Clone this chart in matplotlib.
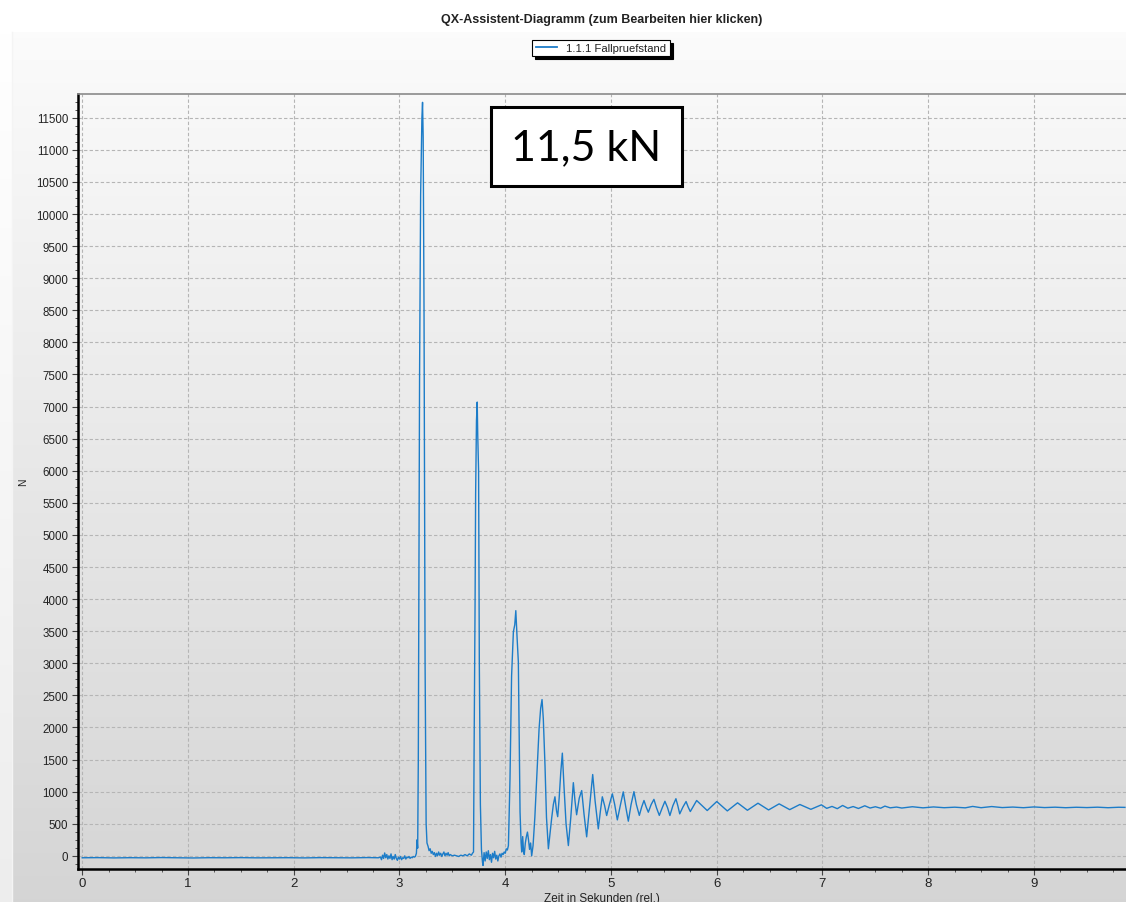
import numpy as np
import matplotlib
matplotlib.use("Agg")
import matplotlib.pyplot as plt
from matplotlib.patches import Rectangle
from matplotlib.ticker import MultipleLocator

plt.rcParams['font.family'] = ['Liberation Sans', 'DejaVu Sans']

# ---------------- data ----------------
title = "QX-Assistent-Diagramm (zum Bearbeiten hier klicken)"
series_name = "1.1.1 Fallpruefstand"
x_label = "Zeit in Sekunden (rel.)"
y_label = "N"
annotation = "11,5 kN"

# quiet baseline before the impact
t_base = [0.0, 0.15, 0.3, 0.45, 0.6, 0.75, 0.9, 1.05, 1.2, 1.35, 1.5, 1.65, 1.8,
          1.95, 2.1, 2.25, 2.4, 2.55, 2.7, 2.8]
f_base = [-30, -28, -32, -29, -31, -27, -30, -33, -29, -30, -28, -31, -30,
          -29, -32, -28, -30, -31, -27, -30]

# noise before first impact
t_pre = [2.82, 2.83, 2.84, 2.85, 2.86, 2.87, 2.88, 2.89, 2.90, 2.91, 2.92, 2.93,
         2.94, 2.95, 2.96, 2.97, 2.98, 2.99, 3.00, 3.01, 3.02, 3.03, 3.04, 3.05,
         3.06, 3.07, 3.08, 3.09, 3.10, 3.11, 3.12, 3.13, 3.14, 3.15]
f_pre = [-20, -60, 10, -40, 45, -30, 20, -50, 0, -40, 30, -60, -10, -50, 20, -40,
         -70, -20, -50, -10, -60, -30, -40, 0, -50, -20, -30, -10, -40, -20, -30,
         -10, -20, -10]

# first impact (11.5 kN)
t_p1 = [3.160, 3.166, 3.172, 3.178, 3.190, 3.200, 3.212, 3.218, 3.224, 3.232,
        3.242, 3.252, 3.260]
f_p1 = [40, 250, 120, 1500, 7500, 10300, 11500, 11740, 11200, 8500, 3000, 500, 200]

# between first and second impact
t_mid1 = [3.27, 3.28, 3.29, 3.30, 3.31, 3.32, 3.33, 3.34, 3.35, 3.36, 3.37, 3.38,
          3.39, 3.40, 3.41, 3.42, 3.43, 3.44, 3.45, 3.46, 3.47, 3.48, 3.49, 3.50,
          3.52, 3.54, 3.56, 3.58, 3.60, 3.62, 3.64, 3.66, 3.68, 3.69]
f_mid1 = [150, 80, 110, 40, 70, 20, 50, -10, 40, 0, 60, 10, 40, -10, 30, 60, 0,
          40, 10, 50, 0, 20, 10, 0, 10, 0, -10, 10, 0, 20, 0, 30, 10, 40]

# second impact
t_p2 = [3.700, 3.705, 3.715, 3.720, 3.728, 3.735, 3.740, 3.748, 3.755, 3.765,
        3.775, 3.785]
f_p2 = [60, 1500, 4000, 5640, 6780, 7070, 6550, 6000, 3000, 800, 100, -100]

# between second and third impact
t_mid2 = [3.79, 3.80, 3.81, 3.82, 3.83, 3.84, 3.85, 3.86, 3.87, 3.88, 3.89, 3.90,
          3.91, 3.92, 3.93, 3.94, 3.95, 3.96, 3.97, 3.98, 3.99, 4.00, 4.01, 4.02]
f_mid2 = [-150, 50, -80, 60, -40, 80, -60, 20, -100, 40, -30, 70, -50, 10, -80,
          0, 30, -20, 40, 20, 60, 40, 110, 90]

# third/fourth impact and decaying oscillation
t_osc = [4.030, 4.045, 4.060, 4.077, 4.090, 4.100, 4.112, 4.124, 4.132, 4.140,
         4.150, 4.156, 4.165, 4.172, 4.180, 4.190, 4.200, 4.210, 4.220, 4.230,
         4.240, 4.250, 4.263, 4.280, 4.297, 4.320, 4.335, 4.348, 4.360, 4.376,
         4.390, 4.408, 4.420, 4.440, 4.455, 4.470, 4.485, 4.496, 4.510, 4.525,
         4.540, 4.555, 4.575, 4.597, 4.620, 4.644, 4.660, 4.675, 4.700, 4.723,
         4.745, 4.770, 4.800, 4.827, 4.850, 4.880, 4.900, 4.918, 4.940, 4.959,
         4.985, 5.013, 5.035, 5.060, 5.090, 5.116, 5.140, 5.164, 5.190, 5.217,
         5.240, 5.268, 5.290, 5.312, 5.333, 5.353, 5.380, 5.406, 5.430, 5.457,
         5.485, 5.510, 5.535, 5.557, 5.585, 5.614, 5.632, 5.650, 5.680, 5.710,
         5.730, 5.750]
f_osc = [160, 1200, 2800, 3490, 3600, 3820, 3400, 3020, 1800, 685,
         200, 60, 300, 100, 20, 200, 300, 370, 250, 100,
         200, 0, 160, 600, 1200, 1980, 2300, 2435, 2135, 1407,
         600, 110, 300, 600, 800, 920, 700, 610, 900, 1300,
         1600, 1100, 500, 160, 600, 1140, 850, 640, 900, 1017,
         650, 296, 800, 1267, 850, 420, 700, 920, 780, 628,
         800, 966, 800, 560, 800, 997, 760, 540, 800, 1000,
         800, 630, 760, 862, 760, 680, 800, 880, 750, 630,
         750, 850, 750, 628, 780, 890, 780, 654, 760, 846,
         760, 690]

# slow settling oscillation
t_set = [5.81, 5.91, 6.00, 6.10, 6.197, 6.29, 6.39, 6.49, 6.59, 6.69, 6.786,
         6.89, 6.99, 7.04, 7.09, 7.14, 7.19, 7.24, 7.29, 7.34, 7.40, 7.45, 7.50,
         7.55, 7.59, 7.64, 7.70]
f_set = [862, 706, 846, 700, 826, 710, 820, 715, 810, 720, 800,
         725, 795, 740, 770, 735, 785, 742, 768, 738, 780, 745, 765,
         742, 775, 748, 760]

# nearly constant tail
t_tail = [7.75, 7.85, 7.95, 8.05, 8.15, 8.25, 8.35, 8.42, 8.50, 8.60, 8.70,
          8.80, 8.90, 9.00, 9.10, 9.20, 9.30, 9.40, 9.50, 9.60, 9.70, 9.80, 9.86]
f_tail = [745, 765, 748, 762, 750, 758, 748, 770, 750, 768, 752,
          760, 750, 762, 752, 758, 750, 757, 752, 758, 750, 757, 755]

t_all = np.concatenate([t_base, t_pre, t_p1, t_mid1, t_p2, t_mid2, t_osc, t_set, t_tail])
f_all = np.concatenate([f_base, f_pre, f_p1, f_mid1, f_p2, f_mid2, f_osc, f_set, f_tail])

x_ticks = list(range(0, 10))
y_ticks = list(range(0, 12000, 500))

# ---------------- figure ----------------
W, H = 1126, 903
fig = plt.figure(figsize=(W / 100, H / 100), dpi=100)
fig.patch.set_facecolor('white')

# background panel with vertical gradient
bg = fig.add_axes([0, 0, 1, 1], zorder=-10)
bg.set_xlim(0, W)
bg.set_ylim(H, 0)
bg.axis('off')
grad = np.linspace(0, 1, 256).reshape(-1, 1)
top_c = np.array([0.985, 0.985, 0.985])
bot_c = np.array([0.835, 0.835, 0.835])
img = top_c + (bot_c - top_c) * grad
img = np.repeat(img[:, None, :], 2, axis=1)
bg.imshow(img, extent=[12, W, H, 33], aspect='auto', interpolation='bilinear')
left_img = np.array([1.0, 1.0, 1.0]) + (np.array([0.93, 0.93, 0.93]) - 1.0) * grad
left_img = np.repeat(left_img[:, None, :], 2, axis=1)
bg.imshow(left_img, extent=[0, 12, H, 33], aspect='auto', interpolation='bilinear')
bg.plot([12, 12], [33, H], color='#f4f4f4', lw=1)

ax_l, ax_r, ax_t, ax_b = 78, 1126, 95, 870
ax = fig.add_axes([ax_l / W, 1 - ax_b / H, (ax_r - ax_l) / W, (ax_b - ax_t) / H])
ax.set_facecolor('none')

line, = ax.plot(t_all, f_all, color='#1c7cc8', lw=1.0, label=series_name)

ax.set_xlim(-0.04, 9.87)
ax.set_ylim(-205, 11870)
ax.set_xticks(x_ticks)
ax.set_yticks(y_ticks)
ax.xaxis.set_minor_locator(MultipleLocator(0.25))
ax.yaxis.set_minor_locator(MultipleLocator(125))
ax.grid(True, which='major', color='#b5b5b5', linestyle=(0, (3, 2)), lw=0.8)
ax.set_axisbelow(True)

for s in ['left', 'bottom']:
    ax.spines[s].set_color('black')
    ax.spines[s].set_linewidth(1.8)
ax.spines['top'].set_color('#8a8a8a')
ax.spines['top'].set_linewidth(1.2)
ax.spines['right'].set_visible(False)

ax.tick_params(axis='both', which='major', direction='out', length=4, width=0.8,
               color='#444444')
ax.tick_params(axis='both', which='minor', direction='out', length=2.5, width=0.7,
               color='#555555')
ax.tick_params(axis='x', which='major', labelsize=9.5, pad=2, labelcolor='#222222')
ax.tick_params(axis='y', which='major', labelsize=8.3, pad=3, labelcolor='#222222')
ax.tick_params(top=False, right=False, which='both')

ax.set_xlabel(x_label, fontsize=8.5, color='#222222', labelpad=2)
ax.set_ylabel(y_label, fontsize=7.5, color='#222222')
ax.yaxis.set_label_coords(-0.0477, 0.5)

fig.text(602 / W, 1 - 20 / H, title, ha='center', va='center', fontsize=9,
         fontweight='bold', color='#222222')

leg = ax.legend(loc='center', bbox_to_anchor=(601 / W, 1 - 49 / H),
                bbox_transform=fig.transFigure, fancybox=False,
                shadow={'facecolor': 'black', 'edgecolor': 'black', 'alpha': 1,
                        'ox': 2.2, 'oy': -2.2},
                edgecolor='black', framealpha=1, fontsize=8.1, handlelength=1.9,
                handletextpad=0.8, borderpad=0.3, borderaxespad=0)
leg.get_frame().set_linewidth(0.8)
for txt in leg.get_texts():
    txt.set_color('#222222')
for h in leg.get_lines():
    h.set_linewidth(1.3)

# annotation box
fig.patches.append(Rectangle((491 / W, 1 - 187 / H), 191 / W, 79 / H,
                             transform=fig.transFigure, facecolor='white',
                             edgecolor='black', lw=2.2, zorder=5))
fig.text(586.5 / W, 1 - 148 / H, annotation, ha='center', va='center',
         fontsize=31, family='Lato', color='black', zorder=6)

fig.savefig('out.png', dpi=100)
